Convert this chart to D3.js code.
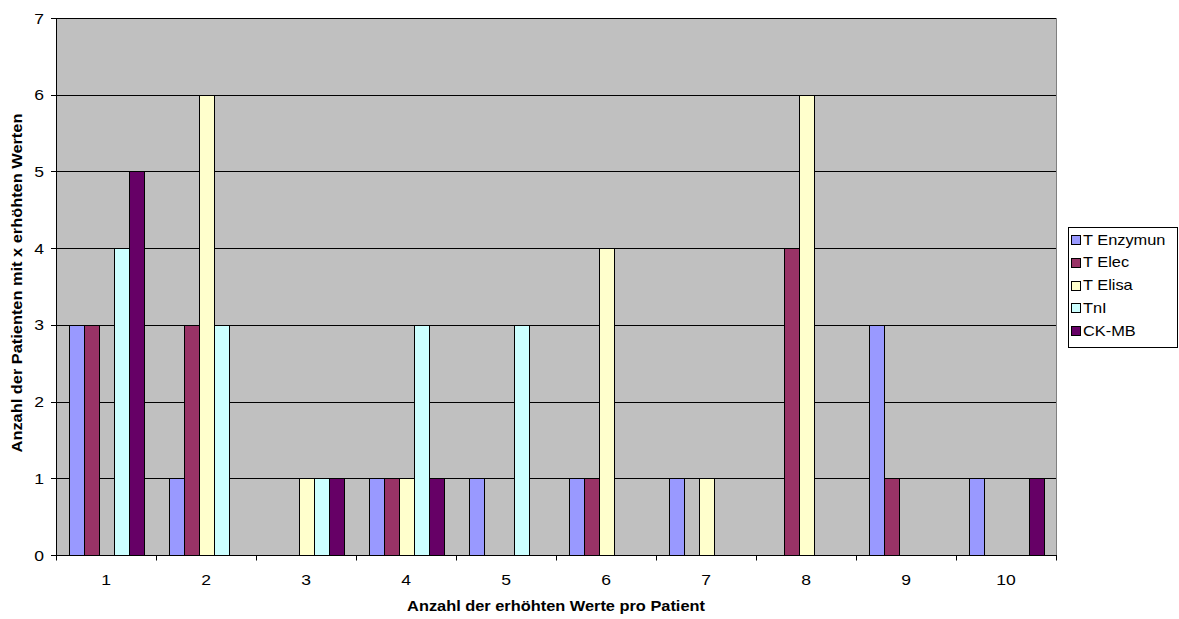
<!DOCTYPE html>
<html><head><meta charset="utf-8">
<script src="https://cdn.jsdelivr.net/npm/d3@7"></script>
<style>body{margin:0;background:#fff;} svg{display:block;font-family:"Liberation Sans",Arial,sans-serif;}</style>
</head><body>
<svg id="c" width="1179" height="619"></svg>
<script>
const categories = ["1","2","3","4","5","6","7","8","9","10"];
const seriesNames = ["T Enzymun","T Elec","T Elisa","TnI","CK-MB"];
const seriesColors = ["#9999FF","#993366","#FFFFCC","#CCFFFF","#660066"];
const tEnzymun = [3,1,0,1,1,1,1,0,3,1];
const tElec    = [3,3,0,1,0,1,0,4,1,0];
const tElisa   = [0,6,1,1,0,4,1,6,0,0];
const tnI      = [4,3,1,3,3,0,0,0,0,0];
const ckMB     = [5,0,1,1,0,0,0,0,0,1];
const yTicks = [0,1,2,3,4,5,6,7];
const xTitle = "Anzahl der erhöhten Werte pro Patient";
const yTitle = "Anzahl der Patienten mit x erhöhten Werten";

const seriesValues = [tEnzymun,tElec,tElisa,tnI,ckMB];
const svg = d3.select("#c");
const L=56, R=1056, T=18, B=555;
const SX = 1.17; // glyph widening to match reference font rendering

const x = d3.scaleBand().domain(categories).range([L,R]).paddingInner(0.25).paddingOuter(0.125);
const x0 = d3.scaleBand().domain(categories).range([L,R]);
const xs = d3.scaleBand().domain(seriesNames).range([0,x.bandwidth()]);
const y = d3.scaleLinear().domain([0,7]).range([B,T]);

svg.append("rect").attr("x",L).attr("y",T).attr("width",R-L).attr("height",B-T).attr("fill","#C0C0C0");
svg.append("g").selectAll("line").data(yTicks.filter(d=>d>0)).join("line")
  .attr("x1",L).attr("x2",R).attr("y1",d=>Math.round(y(d))+0.5).attr("y2",d=>Math.round(y(d))+0.5)
  .attr("stroke","#000").attr("stroke-width",1);
svg.append("line").attr("x1",R+0.5).attr("x2",R+0.5).attr("y1",T).attr("y2",B).attr("stroke","#808080");

seriesValues.forEach((vals,si)=>{
  svg.append("g").selectAll("rect").data(vals.map((v,i)=>({v,c:categories[i]})).filter(d=>d.v>0)).join("rect")
    .attr("x",d=>Math.round(x(d.c)+xs(seriesNames[si]))+0.5)
    .attr("y",d=>Math.round(y(d.v))+0.5)
    .attr("width",Math.round(xs.bandwidth()))
    .attr("height",d=>Math.round(y(0))-Math.round(y(d.v)))
    .attr("fill",seriesColors[si]).attr("stroke","#000").attr("stroke-width",1);
});

function htext(g, px, py, str, size, anchor, weight){
  return g.append("text").attr("transform",`translate(${px},${py}) scale(${SX},1)`)
    .attr("text-anchor",anchor).attr("font-size",size).attr("font-weight",weight||"normal")
    .attr("fill","#000").text(str);
}

// y axis
const gy = svg.append("g");
gy.append("line").attr("x1",L+0.5).attr("x2",L+0.5).attr("y1",T).attr("y2",B+1).attr("stroke","#000");
yTicks.forEach(t=>{
  const yy = Math.round(y(t))+0.5;
  gy.append("line").attr("x1",L-5).attr("x2",L).attr("y1",yy).attr("y2",yy).attr("stroke","#000");
  htext(gy, 44, y(t)+5.5, d3.format("d")(t), 15, "end");
});
// x axis
const gx = svg.append("g").attr("transform",`translate(0,${B+0.5})`);
gx.append("line").attr("x1",L).attr("x2",R+1).attr("stroke","#000");
gx.selectAll("line.t").data(categories.concat(["end"])).join("line").attr("class","t")
  .attr("x1",(d,i)=>Math.round(L+i*x0.step())+0.5).attr("x2",(d,i)=>Math.round(L+i*x0.step())+0.5)
  .attr("y1",0).attr("y2",5).attr("stroke","#000");
categories.forEach(c=>{
  htext(gx, x0(c)+x0.bandwidth()/2, 29, c, 15, "middle");
});

htext(svg, (L+R)/2, 611, xTitle, 14, "middle", "bold");
svg.append("text").attr("transform",`translate(22,283) rotate(-90) scale(${SX},1)`).attr("text-anchor","middle")
  .attr("font-size",14).attr("font-weight","bold").text(yTitle);

// legend
const lg = svg.append("g");
lg.append("rect").attr("x",1068.5).attr("y",227.5).attr("width",109).attr("height",120).attr("fill","#fff").attr("stroke","#000");
seriesNames.forEach((n,i)=>{
  const cy = 239 + i*22.8;
  lg.append("rect").attr("x",1071.5).attr("y",Math.round(cy-4)+0.5).attr("width",9).attr("height",9)
    .attr("fill",seriesColors[i]).attr("stroke","#000");
  htext(lg, 1083, cy+5.5, n, 14, "start");
});
</script>
</body></html>
